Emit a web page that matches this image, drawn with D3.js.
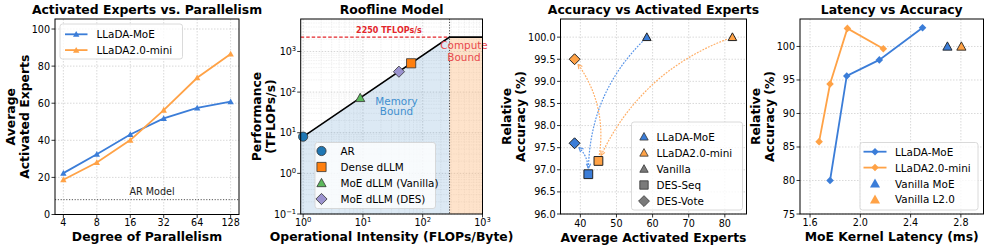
<!DOCTYPE html>
<html><head><meta charset="utf-8">
<script src="https://cdn.jsdelivr.net/npm/d3@7"></script>
<style>body{margin:0;background:#fff}svg{display:block}text{font-family:"DejaVu Sans",sans-serif}</style>
</head><body><svg id="c" width="987" height="250"></svg>
<script>
// ---------- data ----------
const parallelism = [4, 8, 16, 32, 64, 128];
const expertsMoE = [22.3, 32.5, 43.1, 51.8, 57.5, 60.8];
const expertsMini = [18.7, 28.0, 40.1, 56.3, 73.7, 86.5];
const arModelExperts = 8;
const p1YTicks = [0, 20, 40, 60, 80, 100];

const peakTflops = 2250;
const bandwidthSlope = 8; // TFLOPs/s per FLOP/Byte
const rooflinePoints = [
  {name: "AR", x: 1, y: 8, shape: "circle", color: "#1f77b4"},
  {name: "Dense dLLM", x: 64, y: 512, shape: "square", color: "#ff7f0e"},
  {name: "MoE dLLM (Vanilla)", x: 9, y: 72, shape: "triangle", color: "#5cb85c"},
  {name: "MoE dLLM (DES)", x: 40, y: 318, shape: "diamond", color: "#9b93cf"}
];
const p2Decades = [0, 1, 2, 3];
const p2YDecades = [-1, 0, 1, 2, 3];

const accMethods = ["Vanilla", "DES-Seq", "DES-Vote"];
const accExpertsMoE = [58.4, 42.2, 38.4];
const accValueMoE = [100.0, 96.9, 97.6];
const accExpertsMini = [82.1, 45.0, 38.4];
const accValueMini = [100.0, 97.2, 99.5];
const p3XTicks = [40, 50, 60, 70, 80];
const p3YTicks = [96.0, 96.5, 97.0, 97.5, 98.0, 98.5, 99.0, 99.5, 100.0];

const latMoE = [1.759, 1.892, 2.151, 2.495];
const latAccMoE = [80.0, 95.6, 98.0, 102.8];
const latMini = [1.672, 1.759, 1.897, 2.183];
const latAccMini = [85.8, 94.4, 102.7, 99.65];
const vanillaLat = [2.693, 2.804];
const vanillaAcc = [100, 100];
const p4XTicks = [1.6, 2.0, 2.4, 2.8];
const p4YTicks = [75, 80, 85, 90, 95, 100];

// ---------- style ----------
const BLUE = "#3b7dd8", ORANGE = "#ffa246";
const svg = d3.select("#c");
const FONT_T = 12.4, FONT_TICK = 9.6, FONT_LEG = 10.4;

function markerPath(shape, h) {
  if (shape === "triangle") return `M0,${-h}L${h},${h * 0.8}L${-h},${h * 0.8}Z`;
  if (shape === "square") return `M${-h},${-h}H${h}V${h}H${-h}Z`;
  if (shape === "diamond") return `M0,${-h * 1.3}L${h * 1.3},0L0,${h * 1.3}L${-h * 1.3},0Z`;
  if (shape === "circle") return `M${h},0A${h},${h} 0 1,1 ${-h},0A${h},${h} 0 1,1 ${h},0Z`;
}
function mark(g, shape, x, y, h, fill, stroke, sw) {
  g.append("path").attr("d", markerPath(shape, h)).attr("transform", `translate(${x},${y})`)
    .attr("fill", fill).attr("stroke", stroke || "none").attr("stroke-width", sw || 0);
}
function frame(g, p) {
  g.append("rect").attr("x", p.l).attr("y", p.t).attr("width", p.r - p.l).attr("height", p.b - p.t)
    .attr("fill", "none").attr("stroke", "#000").attr("stroke-width", 1);
}
function titles(p, title, xlab, ylabLines, ylabX, xlabY) {
  svg.append("text").attr("x", (p.l + p.r) / 2).attr("y", 13.5).attr("text-anchor", "middle")
    .attr("font-size", FONT_T).attr("font-weight", "bold").text(title);
  svg.append("text").attr("x", (p.l + p.r) / 2).attr("y", xlabY || 240.5).attr("text-anchor", "middle")
    .attr("font-size", FONT_T).attr("font-weight", "bold").text(xlab);
  ylabLines.forEach((s, i) => {
    svg.append("text").attr("transform", `translate(${ylabX[i]},${(p.t + p.b) / 2}) rotate(-90)`)
      .attr("text-anchor", "middle").attr("dominant-baseline", "central")
      .attr("font-size", FONT_T).attr("font-weight", "bold").text(s);
  });
}
function legendBox(g, x, y, w, h) {
  g.append("rect").attr("x", x).attr("y", y).attr("width", w).attr("height", h).attr("rx", 2.5)
    .attr("fill", "#fff").attr("fill-opacity", 0.8).attr("stroke", "#d0d0d0").attr("stroke-width", 0.8);
}
function xTickLabels(g, vals, sx, p, fmt, dy) {
  vals.forEach(v => {
    g.append("line").attr("x1", sx(v)).attr("x2", sx(v)).attr("y1", p.b).attr("y2", p.b + 3.5).attr("stroke", "#000").attr("stroke-width", 0.8);
    g.append("text").attr("x", sx(v)).attr("y", p.b + (dy || 11.5)).attr("text-anchor", "middle")
      .attr("font-size", FONT_TICK).text(fmt(v));
  });
}
function yTickLabels(g, vals, sy, p, fmt) {
  vals.forEach(v => {
    g.append("line").attr("x1", p.l - 3.5).attr("x2", p.l).attr("y1", sy(v)).attr("y2", sy(v)).attr("stroke", "#000").attr("stroke-width", 0.8);
    g.append("text").attr("x", p.l - 5).attr("y", sy(v)).attr("text-anchor", "end").attr("dominant-baseline", "central")
      .attr("font-size", FONT_TICK).text(fmt(v));
  });
}
function gridLines(g, xs, ys, sx, sy, p, color, dash, w) {
  xs.forEach(v => g.append("line").attr("x1", sx(v)).attr("x2", sx(v)).attr("y1", p.t).attr("y2", p.b)
    .attr("stroke", color).attr("stroke-width", w || 0.7).attr("stroke-dasharray", dash));
  ys.forEach(v => g.append("line").attr("x1", p.l).attr("x2", p.r).attr("y1", sy(v)).attr("y2", sy(v))
    .attr("stroke", color).attr("stroke-width", w || 0.7).attr("stroke-dasharray", dash));
}

// ================= Panel 1 =================
{
  const p = {l: 55, r: 239, t: 19, b: 214.5};
  const g = svg.append("g");
  const idx = d3.range(parallelism.length);
  const sx = d3.scaleLinear().domain([-0.25, parallelism.length - 0.75]).range([p.l, p.r]);
  const sy = d3.scaleLinear().domain([0, 105.4]).range([p.b, p.t]);
  gridLines(g, idx, p1YTicks, sx, sy, p, "#c8c8c8", "1.5,1.5");
  g.append("line").attr("x1", p.l).attr("x2", p.r).attr("y1", sy(arModelExperts)).attr("y2", sy(arModelExperts))
    .attr("stroke", "#555").attr("stroke-width", 1).attr("stroke-dasharray", "1.2,1.6");
  g.append("text").attr("x", sx(2.65)).attr("y", sy(arModelExperts) - 8).attr("text-anchor", "middle")
    .attr("dominant-baseline", "central").attr("font-size", FONT_TICK).attr("fill", "#222").text("AR Model");
  const line = d3.line().x((d, i) => sx(i)).y(d => sy(d));
  [[expertsMoE, BLUE], [expertsMini, ORANGE]].forEach(([vals, col]) => {
    g.append("path").attr("d", line(vals)).attr("fill", "none").attr("stroke", col).attr("stroke-width", 1.8);
    vals.forEach((v, i) => mark(g, "triangle", sx(i), sy(v), 3.2, col));
  });
  frame(g, p);
  xTickLabels(g, idx, sx, p, i => parallelism[i]);
  yTickLabels(g, p1YTicks, sy, p, d => d);
  legendBox(g, 60, 24, 122.5, 35);
  [["LLaDA-MoE", BLUE], ["LLaDA2.0-mini", ORANGE]].forEach(([name, col], i) => {
    const y = 34.3 + i * 15.8;
    g.append("line").attr("x1", 65).attr("x2", 87.5).attr("y1", y).attr("y2", y).attr("stroke", col).attr("stroke-width", 1.8);
    mark(g, "triangle", 76.2, y, 3.2, col);
    g.append("text").attr("x", 96.5).attr("y", y).attr("dominant-baseline", "central").attr("font-size", FONT_LEG).text(name);
  });
  titles(p, "Activated Experts vs. Parallelism", "Degree of Parallelism", ["Average", "Activated Experts"], [10, 24]);
}

// ================= Panel 2 =================
{
  const p = {l: 300.7, r: 482.5, t: 19, b: 214};
  const g = svg.append("g");
  const sx = d3.scaleLog().domain([0.91, 1000]).range([p.l, p.r]);
  const sy = d3.scaleLog().domain([0.1, 6300]).range([p.b, p.t]);
  const ridge = peakTflops / bandwidthSlope;
  const xMin = sx.domain()[0], xMax = sx.domain()[1];
  const minorX = [], minorY = [];
  for (let e = -1; e <= 3; e++) for (let k = 2; k <= 9; k++) {
    const v = k * Math.pow(10, e);
    if (v > xMin && v < xMax) minorX.push(v);
    if (v > 0.1 && v < 6300) minorY.push(v);
  }
  gridLines(g, minorX, minorY, sx, sy, p, "#e2e2e2", "1.5,1", 0.5);
  gridLines(g, p2Decades.map(e => Math.pow(10, e)), p2YDecades.map(e => Math.pow(10, e)), sx, sy, p, "#c4c4c4", "1.5,1.5", 0.7);
  const memPts = [[xMin, sy.domain()[0]], [xMin, bandwidthSlope * xMin], [ridge, peakTflops], [ridge, sy.domain()[0]]];
  g.append("path").attr("d", d3.line().x(d => sx(d[0])).y(d => sy(d[1]))(memPts) + "Z")
    .attr("fill", "#2f7ac0").attr("fill-opacity", 0.17);
  g.append("rect").attr("x", sx(ridge)).attr("y", sy(peakTflops)).attr("width", sx(xMax) - sx(ridge))
    .attr("height", sy(0.1) - sy(peakTflops)).attr("fill", "#fdb06a").attr("fill-opacity", 0.35);
  g.append("line").attr("x1", p.l).attr("x2", sx(ridge)).attr("y1", sy(peakTflops)).attr("y2", sy(peakTflops))
    .attr("stroke", "#e3262b").attr("stroke-width", 1.2).attr("stroke-dasharray", "3.5,2");
  g.append("line").attr("x1", sx(ridge)).attr("x2", sx(ridge)).attr("y1", p.t).attr("y2", p.b)
    .attr("stroke", "#444").attr("stroke-width", 1).attr("stroke-dasharray", "1.2,1.6");
  const roof = [[xMin, bandwidthSlope * xMin], [ridge, peakTflops], [xMax, peakTflops]];
  g.append("path").attr("d", d3.line().x(d => sx(d[0])).y(d => sy(d[1]))(roof)).attr("fill", "none")
    .attr("stroke", "#000").attr("stroke-width", 1.6);
  g.append("text").attr("x", 389).attr("y", sy(peakTflops) - 4).attr("text-anchor", "middle").attr("font-size", 8)
    .attr("font-weight", "bold").attr("fill", "#e3262b").text(peakTflops + " TFLOPs/s");
  ["Compute", "Bound"].forEach((s, i) => g.append("text").attr("x", 464).attr("y", 45 + i * 11.5)
    .attr("text-anchor", "middle").attr("dominant-baseline", "central").attr("font-size", FONT_LEG)
    .attr("fill", "#e8494d").text(s));
  ["Memory", "Bound"].forEach((s, i) => g.append("text").attr("x", 396.5).attr("y", 100.5 + i * 10.5)
    .attr("text-anchor", "middle").attr("dominant-baseline", "central").attr("font-size", FONT_LEG)
    .attr("fill", "#3f8fcf").text(s));
  const sizes = {circle: 4.6, square: 4.6, triangle: 4.6, diamond: 4.3};
  rooflinePoints.forEach(d => mark(g, d.shape, sx(d.x), sy(d.y), sizes[d.shape], d.color, "#333", 0.8));
  frame(g, p);
  p2Decades.forEach(e => {
    const x = sx(Math.pow(10, e));
    g.append("line").attr("x1", x).attr("x2", x).attr("y1", p.b).attr("y2", p.b + 3.5).attr("stroke", "#000").attr("stroke-width", 0.8);
    const t = g.append("text").attr("x", x).attr("y", p.b + 12).attr("text-anchor", "middle").attr("font-size", FONT_TICK);
    t.append("tspan").text("10");
    t.append("tspan").attr("dy", -4).attr("font-size", 6.8).text(e);
  });
  p2YDecades.forEach(e => {
    const y = sy(Math.pow(10, e));
    g.append("line").attr("x1", p.l - 3.5).attr("x2", p.l).attr("y1", y).attr("y2", y).attr("stroke", "#000").attr("stroke-width", 0.8);
    const t = g.append("text").attr("x", p.l - 4.5).attr("y", y + 3.5).attr("text-anchor", "end").attr("font-size", FONT_TICK);
    t.append("tspan").text("10");
    t.append("tspan").attr("dy", -4).attr("font-size", 6.8).text(e === -1 ? "\u22121" : e);
  });
  legendBox(g, 315, 142.5, 120.5, 66);
  rooflinePoints.forEach((d, i) => {
    const y = 151 + i * 16;
    mark(g, d.shape, 321.5, y, sizes[d.shape], d.color, "#333", 0.8);
    g.append("text").attr("x", 340.5).attr("y", y).attr("dominant-baseline", "central").attr("font-size", FONT_LEG).text(d.name);
  });
  titles(p, "Roofline Model", "Operational Intensity (FLOPs/Byte)", ["Performance", "(TFLOPs/s)"], [256, 270]);
}

// ================= Panel 3 =================
{
  const p = {l: 560.5, r: 746.5, t: 19, b: 214};
  const g = svg.append("g");
  const sx = d3.scaleLinear().domain([34.5, 86]).range([p.l, p.r]);
  const sy = d3.scaleLinear().domain([96, 100.41]).range([p.b, p.t]);
  gridLines(g, p3XTicks, p3YTicks, sx, sy, p, "#c8c8c8", "1.5,1.5");
  const shapes = ["triangle", "square", "diamond"];
  const hs = {triangle: 4.3, square: 4.4, diamond: 4.2};
  const series = [[accExpertsMoE, accValueMoE, BLUE, "#5a95e8"], [accExpertsMini, accValueMini, ORANGE, "#ffae66"]];
  series.forEach(([xs, ys, col, acol]) => {
    [[0, 1], [1, 2]].forEach(([a, b]) => {
      const S = [sx(xs[a]), sy(ys[a])], E = [sx(xs[b]), sy(ys[b])];
      const dx = E[0] - S[0], dy = E[1] - S[1];
      const M = [(S[0] + E[0]) / 2, (S[1] + E[1]) / 2];
      const rad = 0.2;
      const C = [M[0] - rad * dy, M[1] + rad * dx];
      const shrink = (P, Q, s) => { const L = Math.hypot(Q[0] - P[0], Q[1] - P[1]); return [P[0] + (Q[0] - P[0]) * s / L, P[1] + (Q[1] - P[1]) * s / L]; };
      const S2 = shrink(S, C, 6), E2 = shrink(E, C, 6);
      g.append("path").attr("d", `M${S2[0]},${S2[1]}Q${C[0]},${C[1]} ${E2[0]},${E2[1]}`).attr("fill", "none")
        .attr("stroke", acol).attr("stroke-width", 1.2).attr("stroke-dasharray", "1.8,1.3");
      const ang = Math.atan2(E2[1] - C[1], E2[0] - C[0]);
      const hl = 5, hw = 0.45;
      [ang + Math.PI - hw, ang + Math.PI + hw].forEach(t => g.append("line").attr("x1", E2[0]).attr("y1", E2[1])
        .attr("x2", E2[0] + hl * Math.cos(t)).attr("y2", E2[1] + hl * Math.sin(t)).attr("stroke", acol).attr("stroke-width", 1.2));
    });
  });
  series.forEach(([xs, ys, col]) => {
    xs.forEach((x, i) => mark(g, shapes[i], sx(x), sy(ys[i]), hs[shapes[i]], col, "#222", 1));
  });
  frame(g, p);
  xTickLabels(g, p3XTicks, sx, p, d => d, 13);
  yTickLabels(g, p3YTicks, sy, p, d => d.toFixed(1));
  legendBox(g, 631.5, 122, 111, 88);
  const legItems = [["triangle", BLUE, "LLaDA-MoE"], ["triangle", ORANGE, "LLaDA2.0-mini"], ["triangle", "#7a7a7a", "Vanilla"], ["square", "#7a7a7a", "DES-Seq"], ["diamond", "#7a7a7a", "DES-Vote"]];
  legItems.forEach(([sh, col, name], i) => {
    const y = 136.7 + i * 16.1;
    mark(g, sh, 644, y, 4.2, col, "#333", 0.8);
    g.append("text").attr("x", 656.5).attr("y", y).attr("dominant-baseline", "central").attr("font-size", FONT_LEG).text(name);
  });
  titles(p, "Accuracy vs Activated Experts", "Average Activated Experts", ["Relative", "Accuracy (%)"], [506, 520], 242);
}

// ================= Panel 4 =================
{
  const p = {l: 800, r: 983.5, t: 19, b: 214};
  const g = svg.append("g");
  const sx = d3.scaleLinear().domain([1.52, 2.98]).range([p.l, p.r]);
  const sy = d3.scaleLinear().domain([75, 104.1]).range([p.b, p.t]);
  gridLines(g, p4XTicks, p4YTicks, sx, sy, p, "#c8c8c8", "1.5,1.5");
  const line = d3.line().x(d => sx(d[0])).y(d => sy(d[1]));
  [[latMoE, latAccMoE, BLUE], [latMini, latAccMini, ORANGE]].forEach(([xs, ys, col]) => {
    const pts = xs.map((x, i) => [x, ys[i]]);
    g.append("path").attr("d", line(pts)).attr("fill", "none").attr("stroke", col).attr("stroke-width", 1.8);
    pts.forEach(d => mark(g, "diamond", sx(d[0]), sy(d[1]), 2.9, col));
  });
  [BLUE, ORANGE].forEach((col, i) => mark(g, "triangle", sx(vanillaLat[i]), sy(vanillaAcc[i]), 4.6, col, "#222", 0.9));
  frame(g, p);
  xTickLabels(g, p4XTicks, sx, p, d => d.toFixed(1));
  yTickLabels(g, p4YTicks, sy, p, d => d);
  legendBox(g, 860, 142.5, 118, 67.5);
  [[BLUE, "LLaDA-MoE", "line"], [ORANGE, "LLaDA2.0-mini", "line"], [BLUE, "Vanilla MoE", "tri"], [ORANGE, "Vanilla L2.0", "tri"]].forEach(([col, name, kind], i) => {
    const y = 151.7 + i * 15.9;
    if (kind === "line") {
      g.append("line").attr("x1", 863.5).attr("x2", 886.5).attr("y1", y).attr("y2", y).attr("stroke", col).attr("stroke-width", 1.8);
      mark(g, "diamond", 875, y, 2.9, col);
    } else mark(g, "triangle", 875, y, 5, col);
    g.append("text").attr("x", 895).attr("y", y).attr("dominant-baseline", "central").attr("font-size", FONT_LEG).text(name);
  });
  titles(p, "Latency vs Accuracy", "MoE Kernel Latency (ms)", ["Relative", "Accuracy (%)"], [755, 769]);
}
</script></body></html>
